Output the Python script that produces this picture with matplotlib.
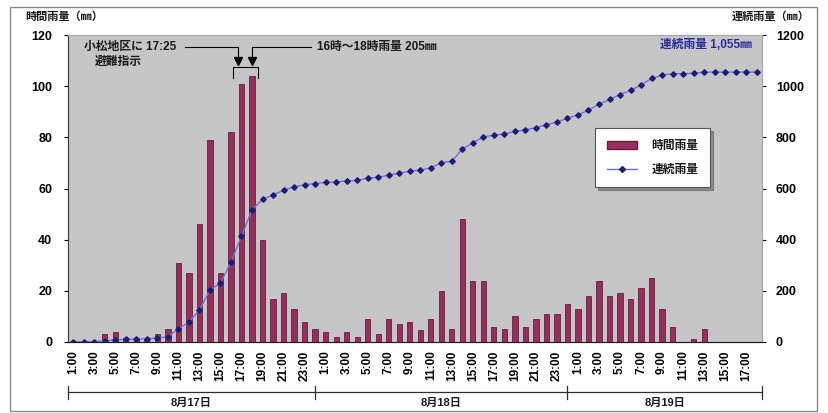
#coding utf-8
# 小松地区の時間雨量と連続雨量（8月17日～19日）

import numpy as np
import matplotlib
matplotlib.use("Agg")
import matplotlib.pyplot as plt
import matplotlib.transforms as mtransforms
from matplotlib.patches import Rectangle, Patch
from matplotlib.lines import Line2D

plt.rcParams['font.family'] = ['Liberation Sans', 'Noto Sans CJK JP', 'DejaVu Sans']
plt.rcParams['font.weight'] = 'bold'
plt.rcParams['text.color'] = '#1a1a1a'

# 日付と時刻
days = ['8月17日', '8月18日', '8月19日']
hours_17 = list(range(1, 25))
hours_18 = list(range(1, 25))
hours_19 = list(range(1, 19))

# 時間雨量（mm）
rain_17 = [0.5, 0.5, 0.5, 3, 4, 1.5, 1.5, 1, 3, 5, 31, 27, 46, 79, 27, 82,
           101, 104, 40, 17, 19, 13, 8, 5]
rain_18 = [4, 2, 4, 2, 9, 3, 9, 7, 8, 4.5, 9, 20, 5, 48, 24, 24, 6, 5, 10, 6,
           9, 11, 11, 15]
rain_19 = [13, 18, 24, 18, 19, 17, 21, 25, 13, 6, 0, 1, 5, 0, 0, 0, 0, 0]

# 連続雨量（mm）
total_17 = [0.5, 1, 1.5, 4.5, 8.5, 10, 11.5, 12.5, 15.5, 20.5, 51.5, 78.5,
            124.5, 203.5, 230.5, 312.5, 413.5, 517.5, 557.5, 574.5, 593.5,
            606.5, 614.5, 619.5]
total_18 = [623.5, 625.5, 629.5, 631.5, 640.5, 643.5, 652.5, 659.5, 667.5,
            672, 681, 701, 706, 754, 778, 802, 808, 813, 823, 829, 838, 849,
            860, 875]
total_19 = [888, 906, 930, 948, 967, 984, 1005, 1030, 1043, 1049, 1049, 1050,
            1055, 1055, 1055, 1055, 1055, 1055]

hours = hours_17 + hours_18 + hours_19
rain = rain_17 + rain_18 + rain_19
total = total_17 + total_18 + total_19
x = np.arange(len(hours))
labels = ["%d:00" % h if h % 2 == 1 else "" for h in hours]

fig = plt.figure(figsize=(8.29, 4.13), dpi=100)
ax = fig.add_axes([68 / 829, 1 - 342 / 413, 694 / 829, 307 / 413])
ax2 = ax.twinx()

# 背景（灰色）
ax.set_facecolor('#c6c6c6')
ax.set_zorder(1)
ax2.set_zorder(2)
ax2.patch.set_visible(False)

# 時間雨量の棒グラフ
ax.bar(x, rain, width=0.5, color='#93305c', edgecolor='#6a1c40', linewidth=0.6)
ax.set_xlim(-0.5, len(x) - 0.5)
ax.set_ylim(0, 120)
ax.set_yticks(range(0, 121, 20))
ax.set_xticks(x)
ax.set_xticklabels(labels, rotation=90, fontsize=8.5)
ax.tick_params(axis='x', length=0, pad=6)
ax.tick_params(axis='y', labelsize=9, length=3, direction='out', pad=8.5)

# 連続雨量の折れ線
ax2.plot(x, total, color='#7070d8', linewidth=1.0, marker='D', markersize=2.8,
         markerfacecolor='#1c1c78', markeredgecolor='#1c1c78')
ax2.set_ylim(0, 1200)
ax2.set_yticks(range(0, 1201, 200))
ax2.tick_params(axis='y', labelsize=9, length=3, direction='out', pad=7)

for a in (ax, ax2):
    a.spines['top'].set_color('#a8a8a8')
    a.spines['right'].set_color('#a8a8a8')
    a.spines['left'].set_color('#404040')
    a.spines['bottom'].set_color('#202020')

# 軸の見出し
fig.text(25 / 829, 1 - 17 / 413, '時間雨量（㎜）', fontsize=8, va='center', ha='left')
fig.text(810 / 829, 1 - 17 / 413, '連続雨量（㎜）', fontsize=8, va='center', ha='right')

# 日付の区切り
trans = mtransforms.blended_transform_factory(ax.transData, ax.transAxes)
n17, n18 = len(hours_17), len(hours_18)
bounds = [-0.5, n17 - 1, n17 + n18 - 1, len(x) - 0.5]
ax.plot([bounds[0], bounds[-1]], [-0.163, -0.163], color='#303030', lw=0.9,
        transform=trans, clip_on=False)
for b in bounds:
    ax.plot([b, b], [-0.142, -0.185], color='#303030', lw=0.9,
            transform=trans, clip_on=False)
for i, d in enumerate(days):
    ax.text((bounds[i] + bounds[i + 1]) / 2, -0.198, d, transform=trans,
            ha='center', va='center', fontsize=8)

# 注記
idx17 = hours.index(17)
ax.text(1.0, 115.3, '小松地区に 17:25', fontsize=8.5, va='center', ha='left')
ax.text(2.0, 109.5, '避難指示', fontsize=8.5, va='center', ha='left')
ax.text(23.2, 115.3, '16時～18時雨量 205㎜', fontsize=8.5, va='center', ha='left')
ax.plot([10.6, idx17 - 0.3, idx17 - 0.3], [115.3, 115.3, 110.5], color='black', lw=0.8, clip_on=False)
ax.plot([22.6, idx17 + 1.0, idx17 + 1.0], [115.3, 115.3, 110.5], color='black', lw=0.8, clip_on=False)
ax.plot([idx17 - 0.3], [110], marker='v', color='black', markersize=6, clip_on=False)
ax.plot([idx17 + 1.0], [110], marker='v', color='black', markersize=6, clip_on=False)
ax.plot([idx17 - 0.85, idx17 - 0.85, idx17 + 1.6, idx17 + 1.6],
        [103.2, 107.5, 107.5, 103.2], color='black', lw=0.8, clip_on=False)
ax2.text(len(x) - 1.5, 1162, '連続雨量 1,055㎜', color='#2a2aa0', fontsize=8.5,
         ha='right', va='center')

# 凡例
handles = [Patch(facecolor='#93305c', edgecolor='#6a1c40'),
           Line2D([], [], color='#7070d8', lw=1.0, marker='D', markersize=3,
                  markerfacecolor='#1c1c78', markeredgecolor='#1c1c78')]
leg = ax2.legend(handles, ['時間雨量', '連続雨量'], loc='upper left',
                 bbox_to_anchor=(0.759, 0.697), fontsize=8.5, frameon=True,
                 fancybox=False, shadow=True, borderpad=1.0, labelspacing=1.0,
                 handlelength=2.6, handletextpad=1.2, borderaxespad=0)
leg.get_frame().set_edgecolor('#555555')
leg.get_frame().set_linewidth(0.8)

# 外枠
fig.patches.append(Rectangle((10 / 829, 2 / 413), 807 / 829, 404 / 413,
                             transform=fig.transFigure, fill=False,
                             edgecolor='#8a8a8a', linewidth=1))

fig.savefig('out.png', dpi=100)
